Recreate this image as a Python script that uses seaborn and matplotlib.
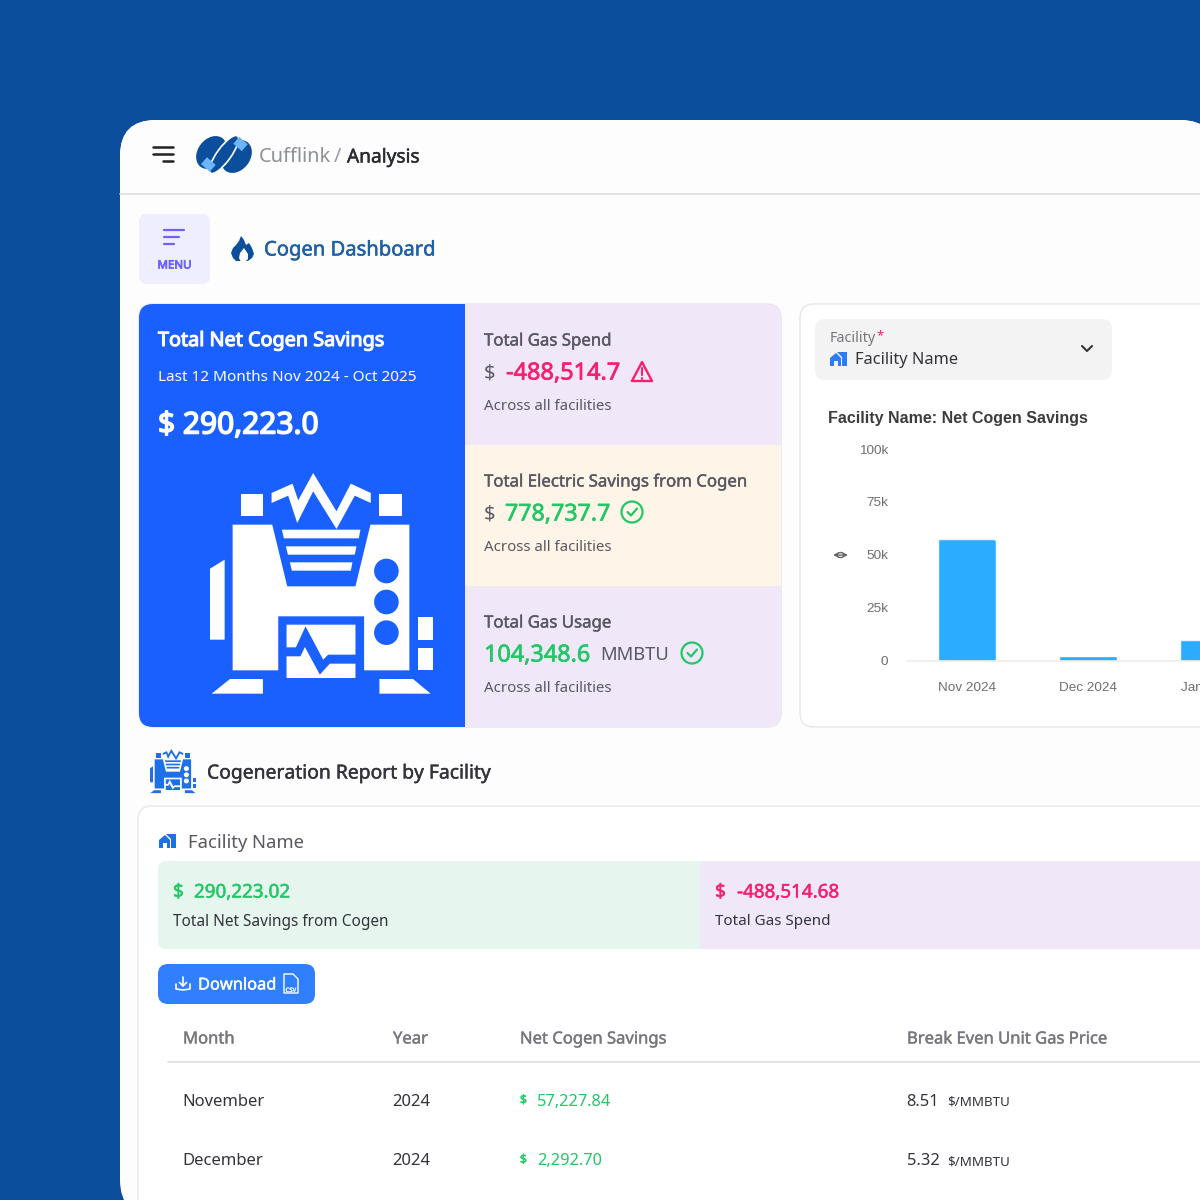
import matplotlib
matplotlib.use("Agg")
import matplotlib.pyplot as plt
import matplotlib.patheffects as pe
from matplotlib.patches import FancyBboxPatch, Polygon, Circle, Rectangle, Ellipse
import seaborn as sns
import pandas as pd

# Daten
months = ["Nov 2024", "Dec 2024", "Jan 2025"]
net_savings = [57227.84, 2292.70, 9500]
y_ticks = [0, 25000, 50000, 75000, 100000]
y_tick_labels = ["0", "25k", "50k", "75k", "100k"]

table_headers = ["Month", "Year", "Net Cogen Savings", "Break Even Unit Gas Price"]
table_month = ["November", "December"]
table_year = ["2024", "2024"]
table_savings = ["57,227.84", "2,292.70"]
table_price = ["8.51", "5.32"]

# Farben
NAVY = "#0B4F9C"
BLUE = "#1A60FF"
VIOLET = "#F0E7F9"
CREAM = "#FEF5E8"
GREEN = "#22C766"
PINK = "#F5206E"
GREY = "#5A5862"
DARK = "#33333B"
BAR = "#2BACFF"
PANEL = "#FDFDFD"

sns.set_theme(style="white")
plt.rcParams["font.family"] = ["Noto Sans", "DejaVu Sans"]

fig = plt.figure(figsize=(12, 12), dpi=100, facecolor=NAVY)
ax = fig.add_axes([0, 0, 1, 1])
ax.set_xlim(0, 1200)
ax.set_ylim(1200, 0)
ax.axis("off")


# Hilfsfunktionen
def label(x, y, s, px, color=GREY, stroke=0, ha="left", weight="normal", family=None, z=5):
    kw = {"family": family} if family else {}
    t = ax.text(x, y + 1.5, s, fontsize=px * 0.72, color=color, fontweight=weight,
                ha=ha, va="center", zorder=z, **kw)
    # Noto Sans hat hier nur einen Schnitt, deshalb fetter per Kontur
    if stroke:
        t.set_path_effects([pe.withStroke(linewidth=stroke, foreground=color)])
    return t


def box(x0, y0, x1, y1, r, color, edge="none", z=1, alpha=None):
    p = FancyBboxPatch((x0 + r, y0 + r), x1 - x0 - 2 * r, y1 - y0 - 2 * r,
                       boxstyle=f"round,pad={r},rounding_size={r}",
                       fc=color, ec=edge, lw=1, zorder=z, alpha=alpha)
    ax.add_patch(p)
    return p


def shadow(x0, y0, x1, y1, r, spread, alpha):
    for s in range(1, spread + 1):
        box(x0 - s, y0 - s, x1 + s, y1 + s, r + s, "black", z=0.5, alpha=alpha)


def check_icon(cx, cy, r=10.5):
    ax.add_patch(Circle((cx, cy), r, fc="none", ec=GREEN, lw=1.6, zorder=3))
    ax.plot([cx - 4.5, cx - 1, cx + 5], [cy, cy + 3.5, cy - 3.5], color=GREEN, lw=1.6, zorder=3)


def house_icon(x, y, color="#2E7BF6"):
    # kleines Gebaeude-Symbol
    ax.add_patch(Polygon([(x, y + 5), (x + 6, y), (x + 11, y + 5), (x + 11, y + 13),
                          (x + 8, y + 13), (x + 8, y + 8), (x + 4, y + 8), (x + 4, y + 13), (x, y + 13)],
                         fc=color, ec="none", zorder=3))
    ax.add_patch(Polygon([(x + 7, y - 1), (x + 17, y - 1), (x + 17, y + 13), (x + 12, y + 13),
                          (x + 12, y + 4)], fc=color, ec="none", zorder=3))


def cogen_icon(x0, y0, sx, sy, fg, bg):
    def tr(pts):
        return [(x0 + (a - 60) * sx, y0 + (b - 40) * sy) for a, b in pts]

    shapes = [
        [(245, 100), (308, 72), (325, 122), (370, 40), (440, 155), (483, 72), (543, 100), (543, 130),
         (495, 108), (440, 208), (370, 95), (322, 190), (295, 108), (245, 130)],
        [(128, 195), (247, 195), (292, 380), (497, 380), (542, 195), (659, 195), (659, 632), (523, 632),
         (523, 470), (265, 470), (265, 632), (128, 632)],
        [(276, 210), (512, 210), (507, 236), (282, 236)],
        [(288, 260), (500, 260), (495, 285), (294, 285)],
        [(300, 308), (488, 308), (483, 333), (306, 333)],
        [(152, 102), (219, 102), (219, 168), (152, 168)],
        [(569, 102), (636, 102), (636, 168), (569, 168)],
        [(60, 327), (104, 300), (104, 540), (60, 540)],
        [(685, 473), (729, 473), (729, 540), (685, 540)],
        [(685, 565), (729, 565), (729, 632), (685, 632)],
        [(65, 702), (120, 658), (219, 658), (219, 702)],
        [(569, 658), (670, 658), (723, 702), (569, 702)],
        [(290, 495), (497, 495), (497, 585), (415, 585), (400, 600), (347, 500), (318, 563), (290, 563)],
        [(290, 590), (332, 590), (345, 562), (390, 645), (420, 612), (497, 612), (497, 655), (290, 655)],
    ]
    for s in shapes:
        ax.add_patch(Polygon(tr(s), fc=fg, ec="none", zorder=3))
    for cy in (334, 427, 519):
        (cx, cyy), = tr([(590, cy)])
        ax.add_patch(Ellipse((cx, cyy), 74 * sx, 74 * sy, fc=bg, ec="none", zorder=4))


# weisses Panel
box(120, 120, 1216, 1216, 36, PANEL)
box(120, 120, 1216, 193, 0, "white", z=0.2).set_clip_path(box(120, 120, 1216, 1216, 36, "none", z=0.1))

# Kopfzeile
for yy, x0 in zip((147, 154, 161), (153, 153, 163)):
    ax.plot([x0, 173], [yy, yy], color="#222222", lw=1.8, solid_capstyle="round", zorder=3)

# Logo: drei schraege Ellipsen und zwei helle Felder
ax.add_patch(Ellipse((211.5, 152.5), 36, 27, angle=-52, fc=NAVY, ec="none", zorder=3))
ax.add_patch(Ellipse((236.5, 156.5), 36, 27, angle=-52, fc=NAVY, ec="none", zorder=3))
ax.add_patch(Ellipse((224, 154.5), 46, 14, angle=-54, fc=NAVY, ec="white", lw=1.2, zorder=4))
ax.plot([204, 212.7], [160.7, 168.3], color="#6DB6FF", lw=6.5, solid_capstyle="butt", zorder=5)
ax.plot([236.3, 244.7], [140.3, 147.7], color="#6DB6FF", lw=6.5, solid_capstyle="butt", zorder=5)

label(259, 156, "Cufflink", 20, color="#8E9196")
label(334, 156, "/", 20, color="#9A9DA2")
label(347, 156, "Analysis", 19.1, color="#2B2D33", stroke=0.35)
ax.plot([120, 1200], [193.5, 193.5], color="#DDDDDD", lw=1.2, zorder=2)

# Menue-Knopf
box(139, 214, 210, 284, 8, "#EFEEFF", z=2)
for yy, x1 in zip((230, 237, 244), (184, 179, 174)):
    ax.plot([164, x1], [yy, yy], color="#6C63FF", lw=1.6, solid_capstyle="round", zorder=3)
label(174.5, 264.5, "MENU", 11.5, color="#6C63FF", stroke=0.6, ha="center")

# Flamme
ax.add_patch(Polygon([(241, 236), (244, 240), (246, 245), (249, 243), (252, 248), (254, 254), (252, 258),
                      (248, 261), (236, 261), (233, 258), (231, 253), (233, 248), (236, 245), (239, 241)],
                     fc=NAVY, ec="none", zorder=3))
ax.add_patch(Polygon([(244, 248), (248, 254), (248, 259), (245, 262), (241, 262), (239, 258), (240, 253)],
                     fc=PANEL, ec="none", zorder=4))
label(264, 249, "Cogen Dashboard", 20.2, color="#1E5FA6", stroke=0.35)

# Kennzahlen-Karte
shadow(139, 304, 781, 727, 14, 5, 0.006)
card = box(139, 304, 781, 727, 14, "white", edge="#E6E6EA", z=1)
for x0, y0, x1, y1, col in [(139, 304, 465, 727, BLUE), (465, 304, 781, 445, VIOLET),
                            (465, 445, 781, 586, CREAM), (465, 586, 781, 727, VIOLET)]:
    r = Rectangle((x0, y0), x1 - x0, y1 - y0, fc=col, ec="none", zorder=2)
    ax.add_patch(r)
    r.set_clip_path(card)

label(158, 339.5, "Total Net Cogen Savings", 19.8, color="white", stroke=0.8)
label(158, 376, "Last 12 Months Nov 2024 - Oct 2025", 15.3, color="white")
label(158, 424.5, "$ 290,223.0", 29.9, color="white", stroke=1.1)
cogen_icon(210, 473, 223 / 670, 220 / 660, "white", BLUE)

label(484, 340, "Total Gas Spend", 16.8, stroke=0.3)
label(484, 372, "$", 20)
label(506, 372, "-488,514.7", 23.5, color=PINK, stroke=0.5)
ax.add_patch(Polygon([(642, 362), (652, 381), (632, 381)], fc="none", ec=PINK, lw=1.7, joinstyle="round", zorder=3))
ax.plot([642, 642], [368, 375], color=PINK, lw=1.5, zorder=3)
ax.plot([642, 642], [377.5, 378.5], color=PINK, lw=1.5, zorder=3)
label(484, 405, "Across all facilities", 15)

label(484, 481, "Total Electric Savings from Cogen", 16.8, stroke=0.3)
label(484, 513, "$", 20)
label(505, 513, "778,737.7", 23.2, color=GREEN, stroke=0.5)
check_icon(632, 512)
label(484, 546, "Across all facilities", 15)

label(484, 622, "Total Gas Usage", 16.8, stroke=0.3)
label(484, 654, "104,348.6", 23.4, color=GREEN, stroke=0.5)
label(600, 654, "MMBTU", 18.4)
check_icon(692, 653)
label(484, 687, "Across all facilities", 15)

# rechte Karte
shadow(800, 304, 1240, 727, 14, 5, 0.006)
box(800, 304, 1240, 727, 14, "white", edge="#E6E6EA")
box(815, 319, 1112, 380, 10, "#F3F3F3", z=2)
label(830, 337, "Facility", 14.4, color="#77777D")
label(876, 334, "*", 13, color=PINK)
house_icon(830, 353)
label(855, 358.5, "Facility Name", 16.4, color=DARK)
ax.plot([1082, 1087, 1092], [346, 351, 346], color="#333333", lw=1.5, zorder=3)
label(828, 416.5, "Facility Name: Net Cogen Savings", 16, color="#3C3C3C", weight="bold",
      family="Liberation Sans")
# Griff an der Achse
ax.annotate("", xy=(848, 555), xytext=(833, 555), zorder=3,
            arrowprops=dict(arrowstyle="<->", color="#666666", lw=1, mutation_scale=6,
                            shrinkA=0, shrinkB=0))
ax.add_patch(Ellipse((840.5, 555), 7, 5, fc="none", ec="#666666", lw=1, zorder=3))

# Balkendiagramm, Achse laeuft ueber den Bildrand hinaus
chart_ax = fig.add_axes([906.5 / 1200, 1 - 660.5 / 1200, 363 / 1200, 211.5 / 1200], facecolor="none")
chart_ax.set_zorder(2)
df = pd.DataFrame({"month": months, "savings": net_savings})
sns.barplot(data=df, x="month", y="savings", color=BAR, saturation=1, width=0.48, ax=chart_ax)
chart_ax.set_xlim(-0.5, 2.5)
chart_ax.set_ylim(0, 100000)
chart_ax.set_xlabel("")
chart_ax.set_ylabel("")
chart_ax.set_yticks(y_ticks)
chart_ax.set_yticklabels(y_tick_labels)
chart_ax.tick_params(axis="both", length=0, labelcolor="#6E6E6E", labelsize=9.7)
chart_ax.tick_params(axis="y", pad=13.2)
chart_ax.tick_params(axis="x", pad=15.5)
for t in chart_ax.get_xticklabels() + chart_ax.get_yticklabels():
    t.set_fontfamily("Liberation Sans")
sns.despine(ax=chart_ax, left=True)
chart_ax.spines["bottom"].set_color("#EDEDED")
chart_ax.spines["bottom"].set_linewidth(1.2)

# Balken oben abrunden: Clip-Form aus den gezeichneten Balken abgeleitet
fig.canvas.draw()
to_px = chart_ax.transData + ax.transData.inverted()
for bar in chart_ax.patches:
    (xa, ya), (xb, yb) = to_px.transform([(bar.get_x(), bar.get_height()),
                                          (bar.get_x() + bar.get_width(), 0)])
    bar.set_clip_path(box(xa, ya, xb, yb + 12, 3, "none", z=0))

# Bericht
cogen_icon(150, 749, 46 / 670, 44 / 660, "#1F6FE8", PANEL)
label(207, 772, "Cogeneration Report by Facility", 19.3, color=DARK, stroke=0.3)

# weicher Schatten um die untere Karte
shadow(138, 806, 1240, 1240, 14, 18, 0.004)
box(138, 806, 1240, 1240, 14, "white", edge="#E8E8E8", z=2)

house_icon(159, 835, color="#1F6FE8")
label(188, 841, "Facility Name", 18.5, color=GREY)

strip = box(158, 861, 1240, 949, 8, "white", z=2)
for x0, x1, col in [(158, 700, "#E6F6EE"), (700, 1240, VIOLET)]:
    r = Rectangle((x0, 861), x1 - x0, 88, fc=col, ec="none", zorder=3)
    ax.add_patch(r)
    r.set_clip_path(strip)
label(173, 891, "$", 19, color=GREEN, stroke=0.35)
label(194, 891, "290,223.02", 18.8, color=GREEN, stroke=0.35)
label(173, 920, "Total Net Savings from Cogen", 15.4, color=DARK)
label(715, 891, "$", 19, color=PINK, stroke=0.35)
label(737, 891, "-488,514.68", 18.8, color=PINK, stroke=0.35)
label(715, 920, "Total Gas Spend", 15.2, color=DARK)

# Download-Knopf
box(158, 964, 315, 1004, 10, "#2F7FFF", z=2)
ax.plot([176, 176, 183, 190, 190], [984, 989, 990, 989, 984], color="white", lw=1.2, zorder=3)
ax.plot([183, 183], [977, 986], color="white", lw=1.2, zorder=3)
ax.plot([179.5, 183, 186.5], [982.5, 986, 982.5], color="white", lw=1.2, zorder=3)
label(198, 984, "Download", 16.4, color="white", stroke=0.3)
ax.add_patch(Polygon([(284, 974), (293, 974), (298, 979), (298, 993), (284, 993)],
                     fc="none", ec="white", lw=1, zorder=3))
label(285.5, 989, "CSV", 6, color="white", stroke=0.2)

# Tabelle
for x, head in zip((183, 393, 520, 907), table_headers):
    label(x, 1038, head, 16.6, color="#77777D", stroke=0.3)
ax.plot([168, 1200], [1062, 1062], color="#DDDDDD", lw=1.2, zorder=3)
for i, yy in enumerate((1100, 1159.5)):
    label(182.3, yy, table_month[i], 16.6, color=DARK)
    label(392.3, yy, table_year[i], 16.6, color=DARK)
    label(520, yy - 1.5, "$", 12, color=GREEN, stroke=0.4)
    label(537, yy, table_savings[i], 16.4, color=GREEN)
    label(906.5, yy, table_price[i], 16.5, color=DARK)
    label(947.5, yy + 1, "$/MMBTU", 13.4, color=DARK)

fig.savefig("out.png", dpi=100, facecolor=NAVY)
